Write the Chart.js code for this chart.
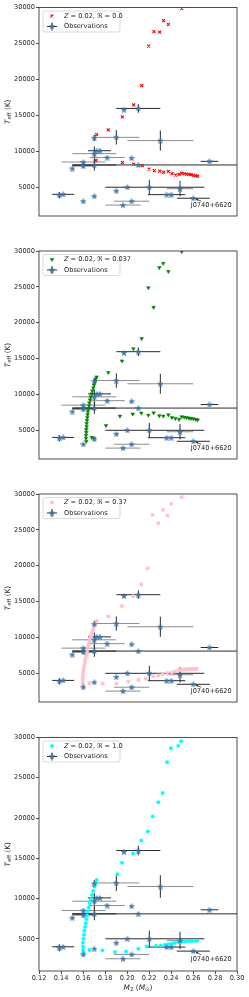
<!DOCTYPE html>
<html>
<head>
<meta charset="utf-8">
<script src="https://cdn.jsdelivr.net/npm/chart.js@4.4.1/dist/chart.umd.min.js"></script>
<style>
  body { margin: 0; background: #fff; width: 249px; height: 997px; position: relative; overflow: hidden; }
  canvas { position: absolute; left: 0; }
</style>
</head>
<body>
<canvas id="p0" width="249" height="250" style="top:0px"></canvas>
<canvas id="p1" width="249" height="250" style="top:243px"></canvas>
<canvas id="p2" width="249" height="250" style="top:486px"></canvas>
<canvas id="p3" width="249" height="268" style="top:729px"></canvas>
<script>
// ---- data ----
const xTicks = [0.12, 0.14, 0.16, 0.18, 0.20, 0.22, 0.24, 0.26, 0.28, 0.30]
const yTicks = [5000, 10000, 15000, 20000, 25000, 30000]

// observations (same in every panel)
const obsMass = [0.1973, 0.2103, 0.1703, 0.1903, 0.2303, 0.1724, 0.1755, 0.1703, 0.182, 0.2042,
    0.1603, 0.1603, 0.1703, 0.2103, 0.1503, 0.275, 0.1385, 0.142, 0.1603, 0.1703,
    0.1903, 0.2003, 0.2203, 0.2042, 0.1964, 0.236, 0.2403, 0.2482, 0.2603]
const obsTeff = [15790, 15960, 11860, 11940, 11490, 10080, 10080, 9670, 9130, 9050,
    8510, 7975, 8100, 8100, 7605, 8600, 3885, 4010, 3060, 3760,
    4500, 5000, 5000, 3060, 2520, 3970, 3970, 4800, 3470]
const obsMassErrLo = [0, 0.02, 0, 0.021, 0.03, 0, 0.011, 0.02, 0.016, 0,
    0.02, 0.01, 0.02, 0.06, 0, 0.008, 0, 0.01, 0, 0,
    0, 0, 0.04, 0.016, 0.016, 0.017, 0, 0.012, 0.015]
const obsMassErrHi = [0, 0.02, 0, 0.021, 0.03, 0, 0.01, 0.02, 0.016, 0,
    0.02, 0.01, 0.02, 0.1, 0, 0.008, 0, 0.01, 0, 0,
    0, 0, 0.05, 0.016, 0.016, 0.017, 0, 0.012, 0.015]
const obsTeffErr = [0, 600, 450, 1000, 1400, 0, 0, 1000, 0, 0,
    0, 330, 800, 0, 0, 0, 450, 0, 0, 0,
    0, 0, 1030, 0, 0, 0, 0, 1070, 0]
const annotatedStar = 28
const annotationText = 'J0740+6620'

// Z = 0.02, R = 0.0
const r00Mass = [0.2497, 0.2333, 0.2376, 0.2245, 0.2297, 0.2197, 0.2133, 0.2061, 0.1958, 0.183,
    0.1724, 0.1718, 0.1958, 0.206, 0.2139, 0.22, 0.2248, 0.2297, 0.2333, 0.2376,
    0.2409, 0.2442, 0.2473, 0.2497, 0.2521, 0.2542, 0.2564, 0.2582, 0.2603, 0.2624, 0.2642]
const r00Teff = [29880, 28180, 27650, 26650, 26570, 24630, 19140, 16450, 14800, 12970,
    12310, 8720, 8430, 8220, 8020, 7520, 7310, 7230, 7070, 7200,
    6900, 6700, 6780, 6950, 6900, 6820, 6780, 6740, 6650, 6610, 6530]

// Z = 0.02, R = 0.037
const r037Mass = [0.2497, 0.233, 0.2294, 0.2376, 0.2194, 0.2242, 0.2133, 0.2058, 0.1955, 0.183,
    0.1724, 0.1715, 0.1709, 0.170, 0.1694, 0.1685, 0.1679, 0.167, 0.1664, 0.1658,
    0.1655, 0.1648, 0.1645, 0.1642, 0.1639, 0.1636, 0.1633, 0.1633, 0.163, 0.163,
    0.1627, 0.1627, 0.163,
    0.1679, 0.170, 0.1809, 0.1936, 0.2052, 0.213, 0.2194, 0.2242, 0.2294, 0.233,
    0.2376, 0.2409, 0.244, 0.2473, 0.2497, 0.252, 0.2542, 0.2564, 0.2582, 0.2603, 0.2624, 0.2642]
const r037Teff = [29920, 28270, 27690, 27150, 24880, 22150, 17780, 16370, 14670, 13060,
    12440, 12150, 11730, 11320, 10910, 10500, 10080, 9670, 9260, 8840,
    8430, 8020, 7600, 7190, 6780, 6370, 5950, 5540, 5130, 4710,
    4300, 3890, 3470,
    4010, 3890, 5660, 6980, 7270, 7400, 7110, 7440, 7030, 6980,
    7150, 6780, 6650, 6530, 6900, 6820, 6780, 6700, 6650, 6610, 6530, 6450]

// Z = 0.02, R = 0.37
const r37Mass = [0.2497, 0.2403, 0.2327, 0.2233, 0.2367, 0.2285, 0.2188, 0.213, 0.2055, 0.1955,
    0.183, 0.1724, 0.1712, 0.170, 0.1691, 0.1682, 0.1673, 0.1664, 0.1658, 0.1652,
    0.1645, 0.1639, 0.1633, 0.1627, 0.1621, 0.1618, 0.1612, 0.1609, 0.1603, 0.160,
    0.1597, 0.1597, 0.1597, 0.1603,
    0.1658, 0.1779, 0.1903, 0.2012, 0.2103, 0.217, 0.2239, 0.2285, 0.2324, 0.2367,
    0.2406, 0.2436, 0.2467, 0.2482, 0.2497, 0.2512, 0.2527, 0.2542, 0.2558, 0.2573,
    0.2588, 0.2603, 0.2618, 0.2633]
const r37Teff = [29540, 28630, 27800, 27100, 26980, 25900, 19610, 17370, 15760, 14380,
    12930, 12310, 11900, 11490, 11070, 10660, 10250, 9830, 9420, 9010,
    8600, 8180, 7770, 7360, 6940, 6530, 6120, 5700, 5290, 4880,
    4470, 4050, 3640, 3310,
    3600, 3560, 3560, 3850, 4090, 4260, 4590, 4710, 4840, 5040,
    5080, 5250, 5420, 5460, 5500, 5520, 5540, 5560, 5580, 5580,
    5590, 5600, 5620, 5620]

// Z = 0.02, R = 1.0
const r10Mass = [0.2491, 0.2467, 0.24, 0.2364, 0.2324, 0.2285, 0.2233, 0.2188, 0.213, 0.2055,
    0.1955, 0.1912, 0.1724, 0.1712, 0.1703, 0.1694, 0.1682, 0.167, 0.1661, 0.1652,
    0.1642, 0.1636, 0.163, 0.1624, 0.1618, 0.1612, 0.1609, 0.1603, 0.160, 0.160,
    0.160, 0.1603,
    0.1658, 0.1776, 0.1891, 0.1991, 0.2103, 0.2179, 0.2264, 0.2306, 0.2345, 0.2376,
    0.2406, 0.2436, 0.2467, 0.2497, 0.2527, 0.2558, 0.2588, 0.2618, 0.2639]
const r10Teff = [29540, 28960, 28670, 26930, 23110, 21950, 20210, 18340, 17220, 15600,
    14440, 13010, 12310, 11900, 11490, 10950, 10450, 9920, 9420, 8880,
    8390, 7890, 7440, 6940, 6450, 5990, 5500, 5000, 4510, 4010,
    3600, 3270,
    3600, 3560, 3350, 3430, 3760, 4050, 4130, 4170, 4260, 4340,
    4420, 4500, 4590, 4630, 4670, 4710, 4710, 4750, 4750]

const modelLabels = ['0.0', '0.037', '0.37', '1.0']

// ---- drawing ----
const FONT = 'DejaVu Sans'
Chart.defaults.font.family = FONT
Chart.defaults.font.size = 6.6
Chart.defaults.color = '#262626'

const starImg = (() => {
    const c = document.createElement('canvas')
    c.width = 6
    c.height = 6
    const g = c.getContext('2d')
    g.beginPath()
    for (let i = 0; i < 10; i++) {
        const r = i % 2 === 0 ? 2.9 : 1.2
        const a = -Math.PI / 2 + (i * Math.PI) / 5
        g.lineTo(3 + r * Math.cos(a), 3.3 + r * Math.sin(a))
    }
    g.closePath()
    g.fillStyle = '#3f7cb8'
    g.fill()
    g.strokeStyle = '#2d5f90'
    g.lineWidth = 0.4
    g.stroke()
    return c
})()

const grayX = [3, 4, 7, 8, 10, 23, 24, 27]

const pairs = (ms, ts) => ms.map((m, i) => ({ x: m, y: ts[i] }))

const models = [
    { data: pairs(r00Mass, r00Teff), color: '#ff0000', style: 'crossRot', radius: 2.1, rotation: 0, border: 1.1 },
    { data: pairs(r037Mass, r037Teff), color: '#008000', style: 'triangle', radius: 2.1, rotation: 180, border: 0.5 },
    { data: pairs(r37Mass, r37Teff), color: '#ffc0cb', style: 'rect', radius: 2.1, rotation: 0, border: 0.5 },
    { data: pairs(r10Mass, r10Teff), color: '#00ffff', style: 'circle', radius: 1.7, rotation: 0, border: 0.5 }
]

const errorBars = {
    id: 'errorBars',
    beforeDatasetsDraw(chart) {
        const { ctx, chartArea: a, scales: { x, y } } = chart
        ctx.save()
        ctx.beginPath()
        ctx.rect(a.left, a.top, a.right - a.left, a.bottom - a.top)
        ctx.clip()
        ctx.lineWidth = 1
        obsMass.forEach((m, i) => {
            const px = x.getPixelForValue(m)
            const py = y.getPixelForValue(obsTeff[i])
            if (obsMassErrLo[i] || obsMassErrHi[i]) {
                ctx.strokeStyle = grayX.includes(i) ? '#8c8c8c' : '#2a2a2a'
                ctx.beginPath()
                ctx.moveTo(x.getPixelForValue(m - obsMassErrLo[i]), py)
                ctx.lineTo(x.getPixelForValue(m + obsMassErrHi[i]), py)
                ctx.stroke()
            }
            if (obsTeffErr[i]) {
                ctx.strokeStyle = '#2a2a2a'
                ctx.beginPath()
                ctx.moveTo(px, y.getPixelForValue(obsTeff[i] - obsTeffErr[i]))
                ctx.lineTo(px, y.getPixelForValue(obsTeff[i] + obsTeffErr[i]))
                ctx.stroke()
            }
        })
        ctx.restore()
    }
}

// draws a row of text pieces: [text, italic, size, dy]
function drawPieces(ctx, pieces, x, y, align) {
    const widths = pieces.map(([t, it, sz]) => {
        ctx.font = `${it ? 'italic ' : ''}${sz}px ${FONT}`
        return ctx.measureText(t).width
    })
    const total = widths.reduce((s, w) => s + w, 0)
    let cx = align === 'center' ? x - total / 2 : x
    pieces.forEach(([t, it, sz, dy], i) => {
        ctx.font = `${it ? 'italic ' : ''}${sz}px ${FONT}`
        ctx.fillText(t, cx, y + (dy || 0))
        cx += widths[i]
    })
}

function panelDecor(idx) {
    const model = models[idx]
    return {
        id: 'decor' + idx,
        afterDatasetsDraw(chart) {
            const { ctx, chartArea: a, scales: { x, y } } = chart
            ctx.save()
            // frame
            ctx.strokeStyle = '#3a3a3a'
            ctx.lineWidth = 0.9
            ctx.strokeRect(a.left, a.top, a.right - a.left, a.bottom - a.top)

            // annotation
            const sx = x.getPixelForValue(obsMass[annotatedStar])
            const sy = y.getPixelForValue(obsTeff[annotatedStar])
            const tx = x.getPixelForValue(0.2579)
            const ty = y.getPixelForValue(2500)
            ctx.fillStyle = '#262626'
            ctx.textBaseline = 'middle'
            ctx.textAlign = 'left'
            ctx.font = `6.6px ${FONT}`
            ctx.fillText(annotationText, tx, ty)
            const hx = sx + 2.5, hy = sy + 0.8, bx = tx + 10.5, by = ty - 4
            ctx.strokeStyle = '#262626'
            ctx.lineWidth = 0.7
            ctx.beginPath()
            ctx.moveTo(bx, by)
            ctx.lineTo(hx, hy)
            ctx.stroke()
            const ang = Math.atan2(hy - by, hx - bx)
            ctx.beginPath()
            ctx.moveTo(hx, hy)
            ctx.lineTo(hx - 2.4 * Math.cos(ang - 0.5), hy - 2.4 * Math.sin(ang - 0.5))
            ctx.lineTo(hx - 2.4 * Math.cos(ang + 0.5), hy - 2.4 * Math.sin(ang + 0.5))
            ctx.closePath()
            ctx.fillStyle = '#262626'
            ctx.fill()

            // legend
            const lx = a.left + 4, ly = a.top + 3.5
            ctx.fillStyle = 'rgba(255,255,255,0.85)'
            ctx.strokeStyle = '#d0d0d0'
            ctx.lineWidth = 0.8
            ctx.beginPath()
            ctx.roundRect(lx, ly, 77, 21, 2)
            ctx.fill()
            ctx.stroke()
            const mx = lx + 9
            ctx.fillStyle = model.color
            ctx.strokeStyle = model.color
            ctx.lineWidth = model.border
            Chart.helpers.drawPoint(ctx, {
                pointStyle: model.style, radius: model.radius,
                rotation: model.rotation, borderWidth: model.border
            }, mx, ly + 5)
            ctx.strokeStyle = '#2a2a2a'
            ctx.lineWidth = 1
            ctx.beginPath()
            ctx.moveTo(mx - 5, ly + 15.5)
            ctx.lineTo(mx + 5, ly + 15.5)
            ctx.moveTo(mx, ly + 11.5)
            ctx.lineTo(mx, ly + 19.5)
            ctx.stroke()
            ctx.drawImage(starImg, mx - 3, ly + 15.5 - 3.3)
            ctx.fillStyle = '#262626'
            ctx.textBaseline = 'middle'
            drawPieces(ctx, [['Z', true, 6.6], [' = 0.02, ', false, 6.6], ['\u211C', false, 6.6],
                [' = ' + modelLabels[idx], false, 6.6]], lx + 21, ly + 5, 'left')
            drawPieces(ctx, [['Observations', false, 6.6]], lx + 21, ly + 15.5, 'left')

            // y title
            ctx.translate(8, (a.top + a.bottom) / 2)
            ctx.rotate(-Math.PI / 2)
            ctx.textBaseline = 'middle'
            drawPieces(ctx, [['T', true, 7.4, 0], ['eff', false, 5.4, 1.8], [' (K)', false, 7.4, 0]], 0, 0, 'center')
            ctx.restore()

            if (idx === 3) {
                ctx.save()
                ctx.fillStyle = '#262626'
                ctx.textBaseline = 'middle'
                drawPieces(ctx, [['M', true, 7.4, 0], ['2', false, 5.4, 1.8], [' (', false, 7.4, 0],
                    ['M', true, 7.4, 0], ['\u2299', false, 5.4, 1.8], [')', false, 7.4, 0]],
                    (a.left + a.right) / 2, 259, 'center')
                ctx.restore()
            }
        }
    }
}

const plotTops = [7.5, 8, 8, 8.5]

models.forEach((model, idx) => {
    const last = idx === 3
    new Chart(document.getElementById('p' + idx), {
        type: 'scatter',
        data: {
            datasets: [
                {
                    data: pairs(obsMass, obsTeff),
                    pointStyle: starImg,
                    order: 0
                },
                {
                    data: model.data,
                    pointStyle: model.style,
                    pointRadius: model.radius,
                    pointRotation: model.rotation,
                    borderWidth: model.border,
                    borderColor: model.color,
                    backgroundColor: model.color,
                    order: 1
                }
            ]
        },
        options: {
            responsive: false,
            animation: false,
            events: [],
            layout: { padding: { top: plotTops[idx], bottom: last ? 0 : 8, left: 0, right: 12 } },
            plugins: { legend: { display: false }, tooltip: { enabled: false } },
            scales: {
                x: {
                    type: 'linear',
                    display: last,
                    min: 0.12,
                    max: 0.30,
                    afterBuildTicks: (s) => { s.ticks = xTicks.map((v) => ({ value: v })) },
                    afterFit: (s) => { s.height = 26 },
                    ticks: { callback: (v) => v.toFixed(2), autoSkip: false, maxRotation: 0, padding: 0.5 },
                    grid: { drawOnChartArea: false, tickLength: 3, tickColor: '#3a3a3a', lineWidth: 0.9 },
                    border: { display: false }
                },
                y: {
                    type: 'linear',
                    min: 1000,
                    max: 30000,
                    afterBuildTicks: (s) => { s.ticks = yTicks.map((v) => ({ value: v })) },
                    afterFit: (s) => { s.width = 39 },
                    ticks: { callback: (v) => String(v), padding: 1 },
                    grid: { drawOnChartArea: false, tickLength: 3, tickColor: '#3a3a3a', lineWidth: 0.9 },
                    border: { display: false }
                }
            }
        },
        plugins: [errorBars, panelDecor(idx)]
    })
})
</script>
</body>
</html>
